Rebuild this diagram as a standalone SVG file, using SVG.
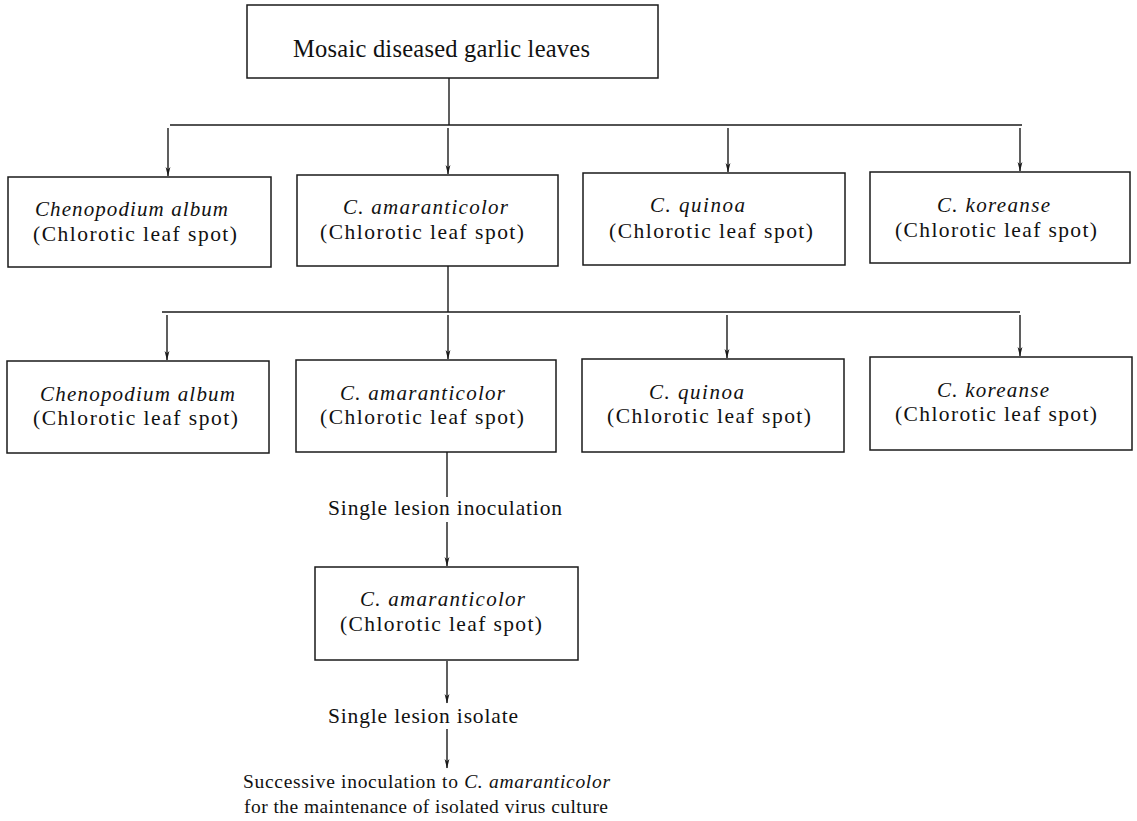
<svg xmlns="http://www.w3.org/2000/svg" width="1137" height="821" viewBox="0 0 1137 821">
<style>
.box{fill:none;stroke:#1a1a1a;stroke-width:1.5}
.ln{fill:none;stroke:#1a1a1a;stroke-width:1.4}
.ar{fill:none;stroke:#1a1a1a;stroke-width:1.4;marker-end:url(#ah)}
text{font-family:"Liberation Serif","Times New Roman",serif;fill:#111;font-size:21.5px}
.it{font-style:italic;font-size:21px}
.ttl{font-size:24.5px}
.lb{font-size:21.5px}
.bt{font-size:19.5px}
</style>
<defs>
<marker id="ah" markerWidth="10" markerHeight="6" refX="9" refY="3" orient="auto" markerUnits="userSpaceOnUse" viewBox="0 0 10 6">
<path d="M0,0.6 L9.5,3 L0,5.4 L2.5,3 Z" fill="#1a1a1a"/>
</marker>
</defs>
<rect width="1137" height="821" fill="#fff"/>
<g id="connectors">
<line class="ln" x1="449" y1="78" x2="449" y2="125"/>
<line class="ln" x1="170" y1="125" x2="1022" y2="125"/>
<line class="ar" x1="168" y1="128" x2="168" y2="176"/>
<line class="ar" x1="448" y1="128" x2="448" y2="174"/>
<line class="ar" x1="728" y1="128" x2="728" y2="172"/>
<line class="ar" x1="1020" y1="128" x2="1020" y2="171"/>
<line class="ln" x1="448" y1="266" x2="448" y2="312"/>
<line class="ln" x1="162" y1="312" x2="1020" y2="312"/>
<line class="ar" x1="167" y1="315" x2="167" y2="360"/>
<line class="ar" x1="448" y1="315" x2="448" y2="359"/>
<line class="ar" x1="727" y1="315" x2="727" y2="358"/>
<line class="ar" x1="1020" y1="315" x2="1020" y2="356"/>
<line class="ln" x1="447" y1="452" x2="447" y2="497"/>
<line class="ar" x1="447" y1="522" x2="447" y2="566"/>
<line class="ar" x1="447" y1="661" x2="447" y2="703"/>
<line class="ar" x1="447" y1="729" x2="447" y2="768"/>
</g>
<g id="n-top">
<rect class="box" x="247" y="5" width="411" height="73"/>
<text class="ttl" x="293" y="57" textLength="297" lengthAdjust="spacing">Mosaic diseased garlic leaves</text>
</g>
<g id="n-r1-album">
<rect class="box" x="8" y="177" width="263" height="90"/>
<text class="it" x="35" y="216" textLength="193" lengthAdjust="spacing">Chenopodium album</text>
<text x="33" y="241" textLength="204" lengthAdjust="spacing">(Chlorotic leaf spot)</text>
</g>
<g id="n-r1-amaranticolor">
<rect class="box" x="297" y="175" width="261" height="91"/>
<text class="it" x="343" y="214" textLength="165" lengthAdjust="spacing">C. amaranticolor</text>
<text x="320" y="239" textLength="204" lengthAdjust="spacing">(Chlorotic leaf spot)</text>
</g>
<g id="n-r1-quinoa">
<rect class="box" x="583" y="173" width="262" height="92"/>
<text class="it" x="650" y="212" textLength="95" lengthAdjust="spacing">C. quinoa</text>
<text x="609" y="238" textLength="204" lengthAdjust="spacing">(Chlorotic leaf spot)</text>
</g>
<g id="n-r1-koreanse">
<rect class="box" x="870" y="172" width="260" height="91"/>
<text class="it" x="937" y="212" textLength="113" lengthAdjust="spacing">C. koreanse</text>
<text x="895" y="237" textLength="202" lengthAdjust="spacing">(Chlorotic leaf spot)</text>
</g>
<g id="n-r2-album">
<rect class="box" x="7" y="361" width="262" height="92"/>
<text class="it" x="40" y="401" textLength="195" lengthAdjust="spacing">Chenopodium album</text>
<text x="33" y="425" textLength="205" lengthAdjust="spacing">(Chlorotic leaf spot)</text>
</g>
<g id="n-r2-amaranticolor">
<rect class="box" x="296" y="360" width="260" height="92"/>
<text class="it" x="340" y="400" textLength="165" lengthAdjust="spacing">C. amaranticolor</text>
<text x="320" y="424" textLength="204" lengthAdjust="spacing">(Chlorotic leaf spot)</text>
</g>
<g id="n-r2-quinoa">
<rect class="box" x="582" y="359" width="262" height="93"/>
<text class="it" x="649" y="399" textLength="95" lengthAdjust="spacing">C. quinoa</text>
<text x="607" y="423" textLength="204" lengthAdjust="spacing">(Chlorotic leaf spot)</text>
</g>
<g id="n-r2-koreanse">
<rect class="box" x="870" y="357" width="262" height="93"/>
<text class="it" x="937" y="397" textLength="112" lengthAdjust="spacing">C. koreanse</text>
<text x="895" y="421" textLength="202" lengthAdjust="spacing">(Chlorotic leaf spot)</text>
</g>
<g id="l-inoculation">
<text class="lb" x="328" y="515" textLength="234" lengthAdjust="spacing">Single lesion inoculation</text>
</g>
<g id="n-single">
<rect class="box" x="315" y="567" width="263" height="93"/>
<text class="it" x="360" y="606" textLength="165" lengthAdjust="spacing">C. amaranticolor</text>
<text x="340" y="631" textLength="202" lengthAdjust="spacing">(Chlorotic leaf spot)</text>
</g>
<g id="l-isolate">
<text class="lb" x="328" y="723" textLength="190" lengthAdjust="spacing">Single lesion isolate</text>
</g>
<g id="n-final">
<text class="bt" x="243" y="788" textLength="367" lengthAdjust="spacing">Successive inoculation to <tspan font-style="italic">C. amaranticolor</tspan></text>
<text class="bt" x="244" y="813" textLength="364" lengthAdjust="spacing">for the maintenance of isolated virus culture</text>
</g>
</svg>
